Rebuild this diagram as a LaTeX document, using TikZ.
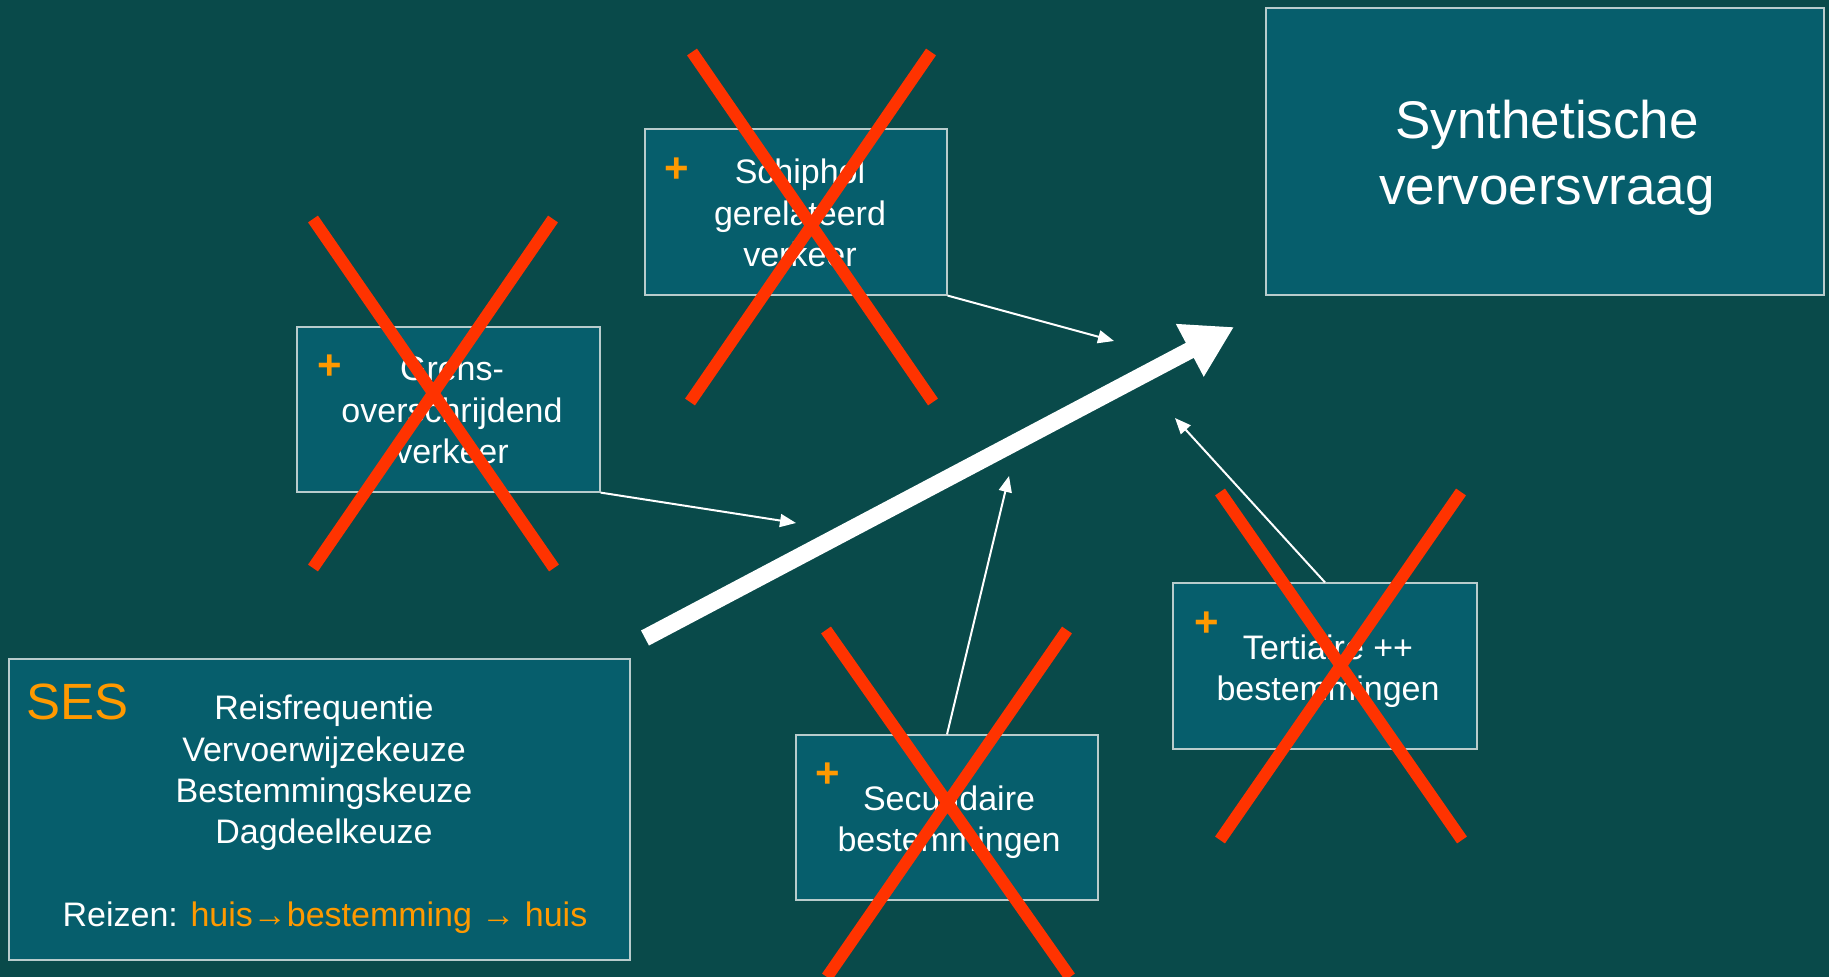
\documentclass[tikz,border=0pt]{standalone}
\usepackage{fontspec}
\setmainfont{Liberation Sans}
\usetikzlibrary{arrows.meta}
\definecolor{bg}{HTML}{094A4A}
\definecolor{boxfill}{HTML}{065E6C}
\definecolor{boxline}{HTML}{B8CCCC}
\definecolor{xred}{HTML}{FF3300}
\definecolor{plusor}{HTML}{FF9900}
\begin{document}
\begin{tikzpicture}[x=1pt,y=-1pt,
  box/.style={draw=boxline, line width=1.2pt, fill=boxfill, inner sep=0pt},
  plus/.style={text=plusor, font=\bfseries\fontsize{42}{42}\selectfont, inner sep=0pt},
  feed/.style={draw=white, line width=2pt, -{Triangle[length=16pt,width=13pt]}},
  cross/.style={draw=xred, line width=12pt, line cap=butt},
  txt/.style={text=white, inner sep=0pt, align=center, font=\fontsize{34}{41.3}\selectfont}]
\fill[bg] (0,0) rectangle (1829,977);
\useasboundingbox (0,0) rectangle (1829,977);

% boxes
\node[box, minimum width=558pt, minimum height=287pt] (syn) at (1545,151.5) {};
\node[box, minimum width=302pt, minimum height=166pt] (sch) at (796,212) {};
\node[box, minimum width=303pt, minimum height=165pt] (gre) at (448.5,409.5) {};
\node[box, minimum width=302pt, minimum height=165pt] (sec) at (947,817.5) {};
\node[box, minimum width=304pt, minimum height=166pt] (ter) at (1325,666) {};
\node[box, minimum width=621pt, minimum height=301pt] (ses) at (319.5,809.5) {};

% box texts
\node[txt, font=\fontsize{53}{66}\selectfont] (syntxt) at (1547,158) {Synthetische\\vervoersvraag};
\node[txt] (schtxt) at (800,213) {Schiphol\\gerelateerd\\verkeer};
\node[txt] (gretxt) at (452,410.5) {Grens-\\overschrijdend\\verkeer};
\node[txt] (sectxt) at (949,822) {Secundaire\\bestemmingen};
\node[txt] (tertxt) at (1328,671) {Tertiaire ++\\bestemmingen};

% SES contents
\node[text=plusor, inner sep=0pt, anchor=west, font=\fontsize{51}{60}\selectfont] (seslbl) at (26,702) {SES};
\node[txt] (seslist) at (324,773) {Reisfrequentie\\Vervoerwijzekeuze\\Bestemmingskeuze\\Dagdeelkeuze};
\node[txt] (reizen) at (325,918) {Reizen: \textcolor{plusor}{huis→bestemming → huis}};

% plus signs
\node[plus] (p1) at (677,170) {+};
\node[plus] (p2) at (330,367) {+};
\node[plus] (p3) at (828,775) {+};
\node[plus] (p4) at (1207,624) {+};

% free ends
\coordinate (e1) at (1114,341);
\coordinate (e2) at (796,523);
\coordinate (e3) at (1009,476);
\coordinate (e4) at (1175,418);
\coordinate (bigtail) at (645,638);
\coordinate (bigtip) at (1234,327);

% connectors
\draw[feed] (sch.south east) -- (e1);
\draw[feed] (gre.south east) -- (e2);
\draw[feed] (sec.north) -- (e3);
\draw[feed] (ter.north) -- (e4);
\draw[draw=white, line width=17pt, -{Triangle[length=50pt,width=56pt]}] (bigtail) -- (bigtip);

% crosses
\draw[cross] (692,52) -- (933,402) (931,52) -- (690,402);
\draw[cross] (313,219) -- (554,568) (553,219) -- (313,568);
\draw[cross] (826,630) -- (1070,977) (1067,630) -- (827,977);
\draw[cross] (1220,492) -- (1462,840) (1461,492) -- (1220,840);
\end{tikzpicture}
\end{document}
